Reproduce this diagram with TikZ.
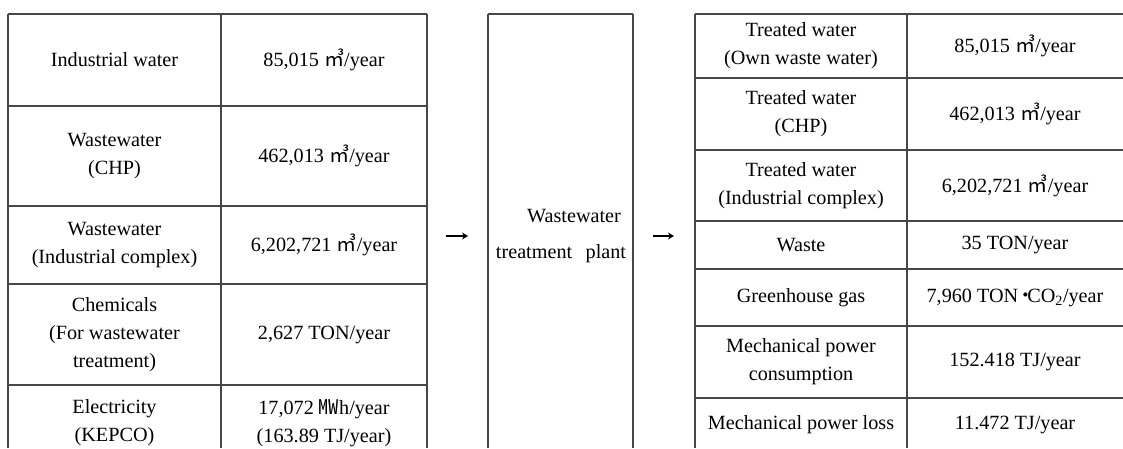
\documentclass[tikz,border=0pt]{standalone}
\usepackage{fontspec}
\setmainfont{Liberation Serif}
\newfontfamily\cjkfont{Noto Sans CJK KR}
\usetikzlibrary{arrows.meta}
\newcommand{\cbm}{{\cjkfont ㎥}}
\newcommand{\mwu}{{\cjkfont ㎿}}
\newcommand{\mdt}{\hspace{-2pt}{\cjkfont\bfseries ㆍ}\hspace{-7.5pt}}
\begin{document}
\begin{tikzpicture}[x=1pt,y=-1pt,
  font=\fontsize{20.2}{28}\selectfont,
  grid/.style={draw=black!72,line width=1.2pt},
  topline/.style={draw=black!72,line width=1.8pt},
  cell/.style={align=center,inner sep=0pt},
  arr/.style={line width=1.3pt,-{Stealth[length=6pt,width=7pt]}}]
\useasboundingbox (0,0) rectangle (1123,448);
% left table
\draw[grid] (8,448) -- (8,14);
\draw[grid] (427,14) -- (427,448);
\draw[grid] (221,14) -- (221,448);
\draw[topline] (8,14) -- (427,14);
\foreach \yy in {106,206,284,385} \draw[grid] (8,\yy) -- (427,\yy);
% middle box
\draw[grid] (488,448) -- (488,14);
\draw[grid] (633,14) -- (633,448);
\draw[topline] (488,14) -- (633,14);
% right table
\draw[grid] (695,448) -- (695,14);
\draw[grid] (907,14) -- (907,448);
\draw[topline] (695,14) -- (1123,14);
\foreach \yy in {78,150,221,269,326,398} \draw[grid] (695,\yy) -- (1123,\yy);
% left table texts
\node[cell] (l1a) at (114.5,60) {Industrial water};
\node[cell] (l1b) at (324,60) {85,015 \cbm/year};
\node[cell] (l2a) at (114.5,156) {Wastewater\\(CHP)};
\node[cell] (l2b) at (324,156) {462,013 \cbm/year};
\node[cell] (l3a) at (114.5,245) {Wastewater\\(Industrial complex)};
\node[cell] (l3b) at (324,245) {6,202,721 \cbm/year};
\node[cell] (l4a) at (114.5,335) {Chemicals\\(For wastewater\\treatment)};
\node[cell] (l4b) at (324,335) {2,627 TON/year};
\node[cell] (l5a) at (114.5,423) {Electricity\\(KEPCO)};
\node[cell] (l5b) at (324,423) {17,072 \mwu h/year\\(163.89 TJ/year)};
% middle text
\node[cell,font=\fontsize{20.2}{36}\selectfont] (plant) at (561,236) {\hspace*{26pt}Wastewater\\treatment\ \ \,plant};
% arrows
\coordinate (a1s) at (446,236);
\coordinate (a1e) at (468,236);
\coordinate (a2s) at (653,236);
\coordinate (a2e) at (674,236);
\draw[arr] (a1s) -- (a1e);
\draw[arr] (a2s) -- (a2e);
% right table texts
\node[cell] (r1a) at (801,45.5) {Treated water\\(Own waste water)};
\node[cell] (r1b) at (1015,45.5) {85,015 \cbm/year};
\node[cell] (r2a) at (801,114) {Treated water\\(CHP)};
\node[cell] (r2b) at (1015,114) {462,013 \cbm/year};
\node[cell] (r3a) at (801,185.5) {Treated water\\(Industrial complex)};
\node[cell] (r3b) at (1015,185.5) {6,202,721 \cbm/year};
\node[cell] (r4a) at (801,245) {Waste};
\node[cell] (r4b) at (1015,245) {35 TON/year};
\node[cell] (r5a) at (801,297.5) {Greenhouse gas};
\node[cell] (r5b) at (1015,297.5) {7,960 TON\mdt CO\textsubscript{2}/year};
\node[cell] (r6a) at (801,362) {Mechanical power\\consumption};
\node[cell] (r6b) at (1015,362) {152.418 TJ/year};
\node[cell] (r7a) at (801,425) {Mechanical power loss};
\node[cell] (r7b) at (1015,425) {11.472 TJ/year};
\end{tikzpicture}
\end{document}
